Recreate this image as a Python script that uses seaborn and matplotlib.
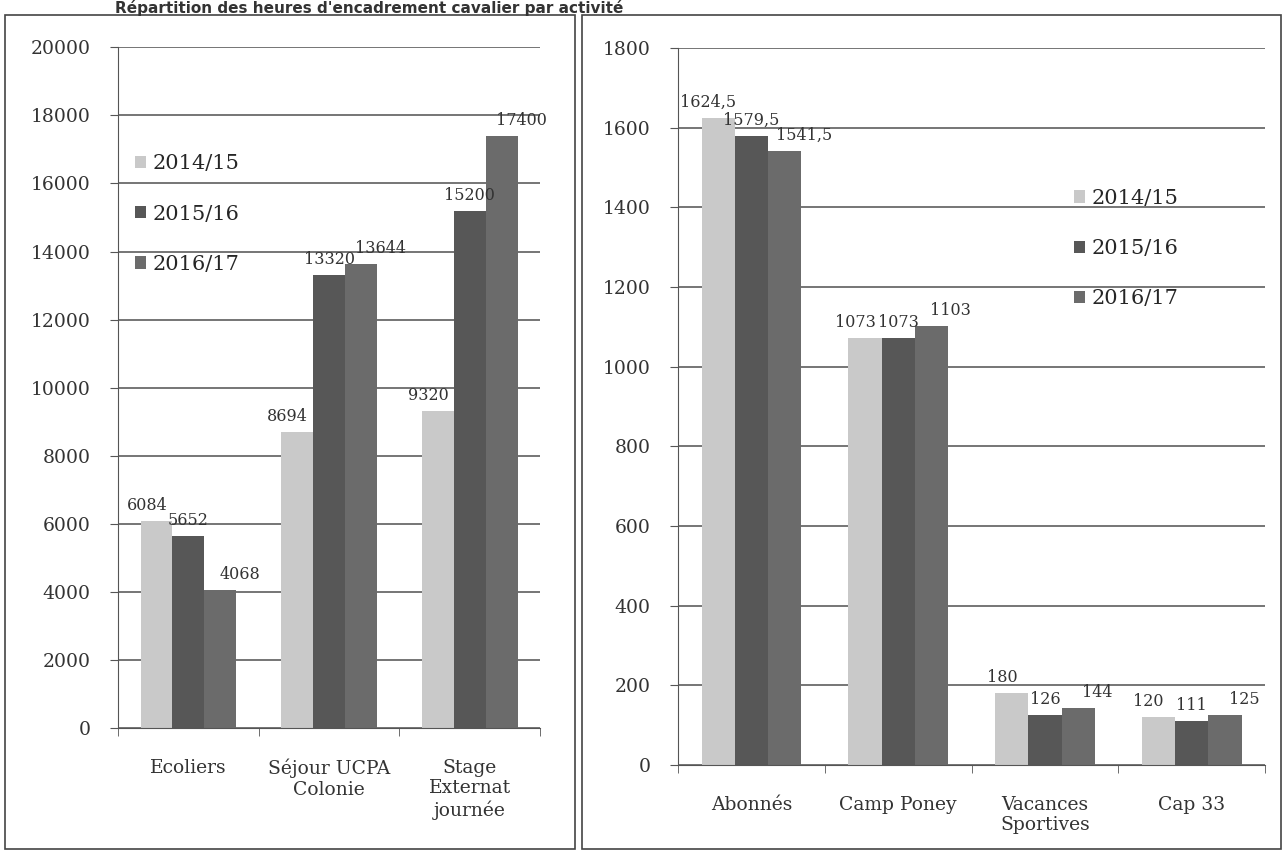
import pandas as pd
import seaborn as sns
import matplotlib
matplotlib.use('Agg')
import matplotlib.pyplot as plt
from matplotlib.patches import Rectangle

# Data
years = ["2014/15", "2015/16", "2016/17"]

left_cats = ["Ecoliers", "Séjour UCPA\nColonie", "Stage\nExternat\njournée"]
left_2014 = [6084, 8694, 9320]
left_2015 = [5652, 13320, 15200]
left_2016 = [4068, 13644, 17400]

right_cats = ["Abonnés", "Camp Poney", "Vacances\nSportives", "Cap 33"]
right_2014 = [1624.5, 1073, 180, 120]
right_2015 = [1579.5, 1073, 126, 111]
right_2016 = [1541.5, 1103, 144, 125]

colors = ["#c9c9c9", "#575757", "#6b6b6b"]
# horizontal nudge of the value labels per series (points), Excel-like stagger
label_dx = [-7, 0, 14]


def to_long(cats, series):
    rows = []
    for year, vals in zip(years, series):
        for c, v in zip(cats, vals):
            rows.append({"cat": c, "year": year, "val": v})
    return pd.DataFrame(rows)


left_df = to_long(left_cats, [left_2014, left_2015, left_2016])
right_df = to_long(right_cats, [right_2014, right_2015, right_2016])

sns.set_style("white")
plt.rcParams['font.family'] = ['DejaVu Serif']

fig = plt.figure(figsize=(12.83, 8.52), dpi=100)

# panel frames like the scanned document
fig.patches.append(Rectangle((0.004, 0.003), 0.444, 0.979, transform=fig.transFigure,
                             fill=False, edgecolor="#444444", linewidth=1.2))
fig.patches.append(Rectangle((0.4536, 0.003), 0.545, 0.979, transform=fig.transFigure,
                             fill=False, edgecolor="#444444", linewidth=1.2))
fig.text(0.09, 1.0, "Répartition des heures d'encadrement cavalier par activité",
         fontsize=11, fontweight="bold", family="DejaVu Sans", color="#333333", va="top")

ax1 = fig.add_axes([0.092, 0.1455, 0.329, 0.799])
ax2 = fig.add_axes([0.5285, 0.1021, 0.4575, 0.8416])


def draw(ax, df, cats, ymax, step, fmt, leg_anchor):
    sns.barplot(data=df, x="cat", y="val", hue="year", palette=colors,
                width=0.68, saturation=1, ax=ax, order=cats, hue_order=years,
                linewidth=0)
    for cont, dx in zip(ax.containers, label_dx):
        labels = [fmt(v) for v in cont.datavalues]
        anns = ax.bar_label(cont, labels=labels, padding=5, fontsize=11.5, color="#333333")
        for a in anns:
            a.xyann = (dx, 5)
    ax.set_ylim(0, ymax)
    ax.set_yticks(range(0, ymax + 1, step))
    ax.yaxis.grid(True, color="#4f4f4f", linewidth=1.1)
    ax.set_axisbelow(True)
    ax.set_xlabel("")
    ax.set_ylabel("")
    for s in ["top", "right"]:
        ax.spines[s].set_visible(False)
    ax.spines["left"].set_color("#555555")
    ax.spines["bottom"].set_color("#555555")
    ax.tick_params(axis="y", left=True, length=6, color="#555555",
                   labelsize=13.5, labelcolor="#333333", pad=14)
    ax.tick_params(axis="x", which="major", length=0, labelsize=13.5,
                   labelcolor="#333333", pad=22)
    ax.set_xticks([i - 0.5 for i in range(len(cats) + 1)], minor=True)
    ax.tick_params(axis="x", which="minor", bottom=True, length=6, color="#555555")
    ax.set_xlim(-0.5, len(cats) - 0.5)
    ax.legend(loc="upper left", bbox_to_anchor=leg_anchor, frameon=False,
              fontsize=15, labelspacing=1.5, handlelength=0.55, handleheight=0.55,
              handletextpad=0.3, borderaxespad=0)


draw(ax1, left_df, left_cats, 20000, 2000, lambda v: f"{v:.0f}", (0.02, 0.855))
draw(ax2, right_df, right_cats, 1800, 200,
     lambda v: f"{v:.1f}".replace(".", ",") if v % 1 else f"{v:.0f}", (0.66, 0.815))

fig.savefig("out.png", dpi=100)
